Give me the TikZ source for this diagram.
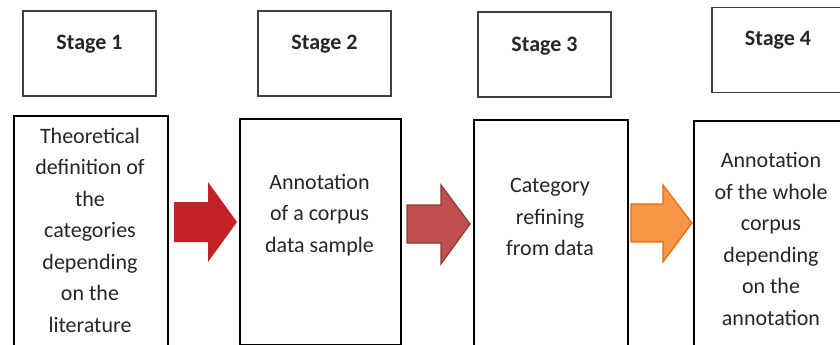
\documentclass[tikz,border=0pt]{standalone}
\usepackage{fontspec}
\setmainfont{Carlito}
\begin{document}
\begin{tikzpicture}[x=1pt,y=-1pt,
  stagebox/.style={draw=black!75,line width=1.3pt,rectangle,minimum width=133pt,minimum height=85pt,inner sep=0pt},
  contentbox/.style={draw=black,line width=2.4pt,rectangle,inner sep=0pt,anchor=north west},
  stagelabel/.style={font=\fontsize{22}{26}\selectfont\bfseries,text=black!85,inner sep=0pt},
  bodytext/.style={font=\fontsize{22}{31.5}\selectfont,text=black!85,align=center,inner sep=0pt},
  arrowA/.style={fill={rgb,255:red,193;green,33;blue,39}},
  arrowB/.style={fill={rgb,255:red,192;green,80;blue,77},draw={rgb,255:red,140;green,56;blue,54},line width=1.2pt,line join=miter},
  arrowC/.style={fill={rgb,255:red,247;green,150;blue,70},draw={rgb,255:red,228;green,108;blue,10},line width=1.2pt,line join=miter}]
\useasboundingbox (0,0) rectangle (840,345);
\clip (0,0) rectangle (840,345);
\fill[white] (0,0) rectangle (840,345);

% stage headers
\node[stagebox] (s1) at (89.5,53.5) {};
\node[stagebox] (s2) at (324.5,53.5) {};
\node[stagebox] (s3) at (544.5,54.5) {};
\node[stagebox] (s4) at (778.5,50) {};
\node[stagelabel] (l1) at (89.5,44) {Stage 1};
\node[stagelabel] (l2) at (324.5,44) {Stage 2};
\node[stagelabel] (l3) at (544.5,46) {Stage 3};
\node[stagelabel] (l4) at (778,40) {Stage 4};

% stage contents
\node[contentbox,minimum width=154pt,minimum height=260pt] (b1) at (13,115) {};
\node[contentbox,minimum width=161pt,minimum height=226pt] (b2) at (239,118) {};
\node[contentbox,minimum width=154pt,minimum height=260pt] (b3) at (473,119) {};
\node[contentbox,minimum width=156pt,minimum height=260pt] (b4) at (693,120) {};

\node[bodytext] (t1) at (90,230) {Theoretical\\definition of\\the\\categories\\depending\\on the\\literature};
\node[bodytext] (t2) at (319.5,215) {Annotation\\of a corpus\\data sample};
\node[bodytext] (t3) at (550,217) {Category\\refining\\from data};
\node[bodytext] (t4) at (771,239) {Annotation\\of the whole\\corpus\\depending\\on the\\annotation};

% block arrows between the stages
\path[arrowA] (174,202) -- (208,202) -- (208,182) -- (237,222) -- (208,262) -- (208,242) -- (174,242) -- cycle;
\path[arrowB] (407,205) -- (441,205) -- (441,185) -- (470,224) -- (441,264) -- (441,243) -- (407,243) -- cycle;
\path[arrowC] (631,204) -- (663,204) -- (663,185) -- (692,223) -- (663,262) -- (663,242) -- (631,242) -- cycle;
\end{tikzpicture}
\end{document}
